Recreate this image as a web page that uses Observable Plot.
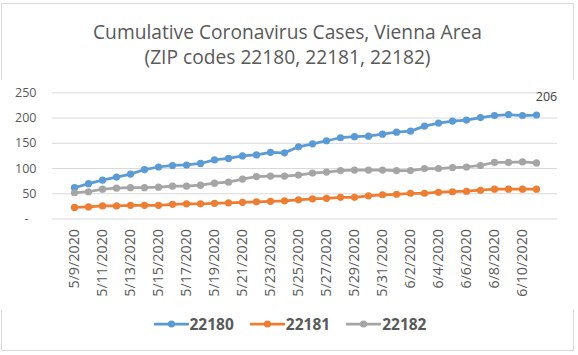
<!DOCTYPE html>
<html>
<head>
<meta charset="utf-8">
<script src="https://cdn.jsdelivr.net/npm/d3@7"></script>
<script src="https://cdn.jsdelivr.net/npm/@observablehq/plot@0.6"></script>
<style>
  html, body { margin: 0; padding: 0; background: #fff; }
  #wrap { position: relative; width: 578px; height: 355px; overflow: hidden; background: #fff; font-family: "Open Sans", sans-serif; }
  #border { position: absolute; left: 1px; top: 3px; width: 573px; height: 348px; border: 1px solid #d9d9d9; box-sizing: border-box; }
  #title { position: absolute; left: 0; top: 19px; width: 575px; text-align: center; color: #595959; font-size: 19.2px; line-height: 25px; }
  #chart { position: absolute; left: 0; top: 80px; }
  #legend { position: absolute; left: 0; top: 310px; width: 580px; height: 28px; display: flex; justify-content: center; align-items: center; gap: 16px; color: #595959; font-weight: bold; font-size: 15.5px; }
  .item { display: flex; align-items: center; gap: 1px; }
</style>
</head>
<body>
<div id="wrap">
  <div id="border"></div>
  <div id="title">Cumulative Coronavirus Cases, Vienna Area<br>(ZIP codes 22180, 22181, 22182)</div>
  <div id="chart"></div>
  <div id="legend"></div>
</div>
<script>
const dates = ["5/9/2020","5/10/2020","5/11/2020","5/12/2020","5/13/2020","5/14/2020","5/15/2020","5/16/2020","5/17/2020","5/18/2020","5/19/2020","5/20/2020","5/21/2020","5/22/2020","5/23/2020","5/24/2020","5/25/2020","5/26/2020","5/27/2020","5/28/2020","5/29/2020","5/30/2020","5/31/2020","6/1/2020","6/2/2020","6/3/2020","6/4/2020","6/5/2020","6/6/2020","6/7/2020","6/8/2020","6/9/2020","6/10/2020","6/11/2020"];
const zips = ["22180", "22181", "22182"];
const colors = ["#5B9BD5", "#ED7D31", "#A5A5A5"];
const cases22180 = [62,70,77,83,89,98,103,106,107,110,117,120,125,127,132,131,143,149,155,161,163,164,168,172,174,184,190,194,196,201,205,207,205,206];
const cases22181 = [23,24,26,26,27,27,27,29,30,30,31,32,33,34,35,36,38,40,41,43,43,46,48,49,51,51,53,54,55,57,59,59,59,59];
const cases22182 = [52,54,59,61,62,62,63,65,65,67,71,73,79,84,85,85,87,91,93,96,97,97,97,96,96,100,100,102,103,106,112,112,113,111];
const yTicks = [50, 100, 150, 200, 250];
const xTicks = dates.filter((d, i) => i % 2 === 0);

const seriesValues = [cases22180, cases22181, cases22182];
const data = zips.flatMap((z, k) => dates.map((d, i) => ({date: d, zip: z, v: seriesValues[k][i]})));
const lastBlue = [{date: dates[dates.length - 1], v: cases22180[cases22180.length - 1]}];

const chart = Plot.plot({
  width: 578,
  height: 230,
  marginTop: 12.3,
  marginBottom: 91.5,
  marginLeft: 52,
  marginRight: 21,
  x: {type: "point", domain: dates, padding: 0.5, label: null},
  y: {domain: [0, 250], label: null},
  color: {domain: zips, range: colors},
  style: {fontFamily: "'Open Sans', sans-serif", color: "#595959", background: "white", overflow: "visible"},
  marks: [
    Plot.gridY(yTicks, {stroke: "#d9d9d9", strokeOpacity: 1, strokeWidth: 1}),
    Plot.ruleY([0], {stroke: "#d9d9d9", strokeWidth: 1}),
    Plot.axisY(yTicks, {tickSize: 0, tickPadding: 16, fontSize: 12.5, fill: "#595959", label: null}),
    Plot.axisY([0], {tickSize: 0, tickPadding: 16, dx: -8, fontSize: 12.5, fill: "#595959", tickFormat: () => "-", label: null}),
    Plot.axisX(xTicks, {tickSize: 0, tickPadding: 10, tickRotate: -90, fontSize: 14.3, fill: "#595959", label: null}),
    Plot.line(data, {x: "date", y: "v", z: "zip", stroke: "zip", strokeWidth: 2.75, curve: "linear"}),
    Plot.dot(data, {x: "date", y: "v", fill: "zip", r: 3.6, stroke: "none"}),
    Plot.text(lastBlue, {x: "date", y: "v", text: d => String(d.v), dy: -18, dx: 10, fontSize: 12.5, fill: "#404040"})
  ]
});
document.getElementById("chart").appendChild(chart);

const legend = document.getElementById("legend");
zips.forEach((z, k) => {
  const item = document.createElement("div");
  item.className = "item";
  item.innerHTML = `<svg width="35" height="10"><line x1="0" y1="5" x2="35" y2="5" stroke="${colors[k]}" stroke-width="2.75"/><circle cx="17.5" cy="5" r="3.6" fill="${colors[k]}"/></svg><span>${z}</span>`;
  legend.appendChild(item);
});
</script>
</body>
</html>
